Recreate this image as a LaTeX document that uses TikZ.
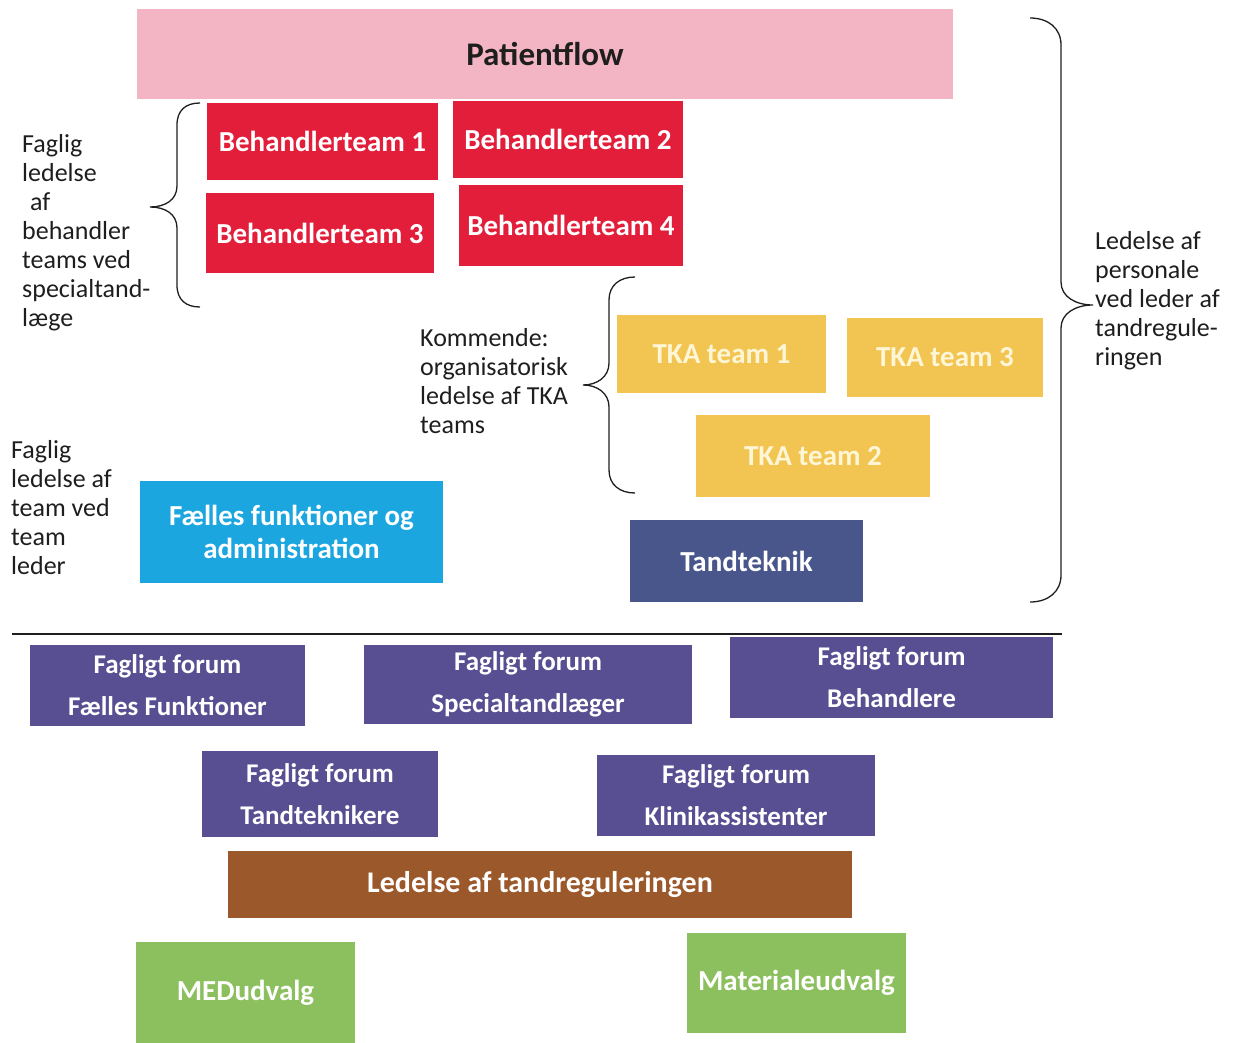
\documentclass[tikz,border=0pt]{standalone}
\usepackage{fontspec}
\setmainfont{Carlito}
\usetikzlibrary{positioning}

\definecolor{flowpink}{RGB}{243,180,196}
\definecolor{teamred}{RGB}{226,30,58}
\definecolor{tkayellow}{RGB}{242,196,82}
\definecolor{tkatext}{RGB}{255,246,214}
\definecolor{slateblue}{RGB}{72,86,140}
\definecolor{adminblue}{RGB}{28,166,224}
\definecolor{forumpurple}{RGB}{88,78,146}
\definecolor{leadbrown}{RGB}{155,88,42}
\definecolor{udvalggreen}{RGB}{140,192,94}
\definecolor{inkgray}{RGB}{30,30,30}

\begin{document}
\begin{tikzpicture}[x=1pt,y=-1pt,
    box/.style={rectangle,inner sep=0pt,text=white,align=center,
                font=\fontsize{29}{33}\selectfont\bfseries},
    forum/.style={box,fill=forumpurple,font=\fontsize{27}{42}\selectfont\bfseries},
    note/.style={inner sep=0pt,anchor=west,align=left,text=inkgray,
                 font=\fontsize{26}{29}\selectfont},
    curly/.style={line width=1.3pt,inkgray}]
    % page frame in pixels of the scan (y runs downwards)
    \useasboundingbox (0,0) rectangle (1241,1043);

    % upper half: teams
    \node[box,fill=flowpink,text=inkgray,minimum width=816,minimum height=90,
          font=\fontsize{33}{36}\selectfont\bfseries] (flow) at (545,54) {Patientflow};
    \node[box,fill=teamred,minimum width=231,minimum height=77] (bt1) at (322.5,141.5) {Behandlerteam 1};
    \node[box,fill=teamred,minimum width=230,minimum height=77] (bt2) at (568,139.5) {Behandlerteam 2};
    \node[box,fill=teamred,minimum width=228,minimum height=80] (bt3) at (320,233) {Behandlerteam 3};
    \node[box,fill=teamred,minimum width=224,minimum height=81] (bt4) at (571,225.5) {Behandlerteam 4};

    \node[box,fill=tkayellow,text=tkatext,minimum width=209,minimum height=78] (tka1) at (721.5,354) {TKA team 1};
    \node[box,fill=tkayellow,text=tkatext,minimum width=196,minimum height=79] (tka3) at (945,357.5) {TKA team 3};
    \node[box,fill=tkayellow,text=tkatext,minimum width=234,minimum height=82] (tka2) at (813,456) {TKA team 2};
    \node[box,fill=slateblue,minimum width=233,minimum height=82] (tandtek) at (746.5,561) {Tandteknik};
    \node[box,fill=adminblue,minimum width=303,minimum height=102] (faelles) at (291.5,532)
        {Fælles funktioner og\\administration};

    % side texts
    \node[note] (behnote) at (22,233) {Faglig\\ledelse\\\hspace{0.3em}af\\behandler\\teams ved\\specialtand-\\læge};
    \node[note] (teamnote) at (11,508) {Faglig\\ledelse af\\team ved\\team\\leder};
    \node[note] (tkanote) at (420,381) {Kommende:\\organisatorisk\\ledelse af TKA\\teams};
    \node[note] (persnote) at (1095,301) {Ledelse af\\personale\\ved leder af\\tandregule-\\ringen};

    % curly brackets
    \draw[curly] (200,103) .. controls (186,103) and (177,110) .. (177,125) -- (177,186)
        .. controls (177,200) and (165,207) .. (150,207)
        .. controls (165,207) and (177,214) .. (177,228) -- (177,285)
        .. controls (177,300) and (186,307) .. (200,307);
    \draw[curly] (635,277) .. controls (620,277) and (609,285) .. (609,300) -- (609,363)
        .. controls (609,377) and (597,385) .. (583,385)
        .. controls (597,385) and (609,393) .. (609,407) -- (609,470)
        .. controls (609,485) and (620,493) .. (635,493);
    \draw[curly] (1030,18) .. controls (1048,18) and (1061,28) .. (1061,45) -- (1061,282)
        .. controls (1061,297) and (1076,305) .. (1093,305)
        .. controls (1076,305) and (1061,313) .. (1061,328) -- (1061,575)
        .. controls (1061,592) and (1048,602) .. (1030,602);

    % separator
    \coordinate (sepL) at (12,634);
    \coordinate (sepR) at (1062,634);
    \draw[line width=2pt,inkgray] (sepL) -- (sepR);

    % lower half: fora and committees
    \foreach \name/\x/\y/\w/\h/\txt in {
        ff1/167.5/685.5/275/81/{Fagligt forum\\Fælles Funktioner},
        ff2/528/684.5/328/79/{Fagligt forum\\Specialtandlæger},
        ff3/891.5/677.5/323/81/{Fagligt forum\\Behandlere},
        ff4/320/794/236/86/{Fagligt forum\\Tandteknikere},
        ff5/736/795.5/278/81/{Fagligt forum\\Klinikassistenter}}
    {
        \node[forum,minimum width=\w,minimum height=\h] (\name) at (\x,\y) {\txt};
    };

    \node[box,fill=leadbrown,minimum width=624,minimum height=67,
          font=\fontsize{30}{33}\selectfont\bfseries] (lead) at (540,884.5) {Ledelse af tandreguleringen};
    \node[box,fill=udvalggreen,minimum width=219,minimum height=103] (med) at (245.5,993) {MEDudvalg};
    \node[box,fill=udvalggreen,minimum width=219,minimum height=100] (mat) at (796.5,983) {Materialeudvalg};
\end{tikzpicture}
\end{document}
